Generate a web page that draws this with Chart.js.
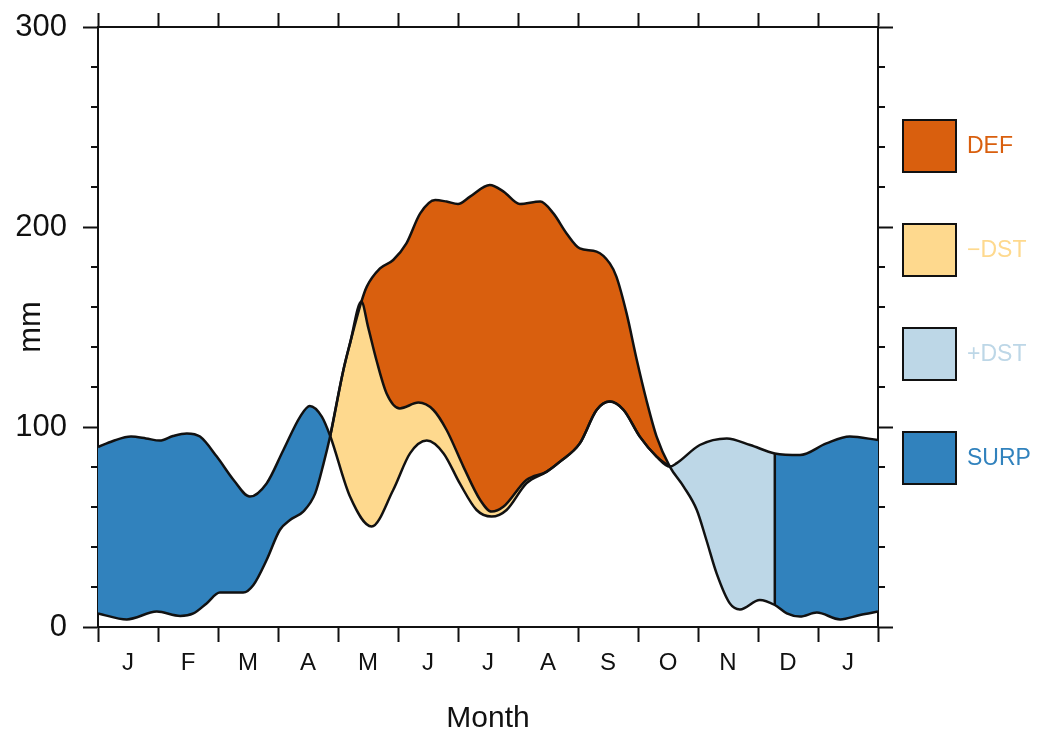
<!DOCTYPE html>
<html><head><meta charset="utf-8">
<script src="https://cdn.jsdelivr.net/npm/chart.js@4.4.1/dist/chart.umd.min.js"></script>
<style>html,body{margin:0;padding:0;background:#fff}#wrap{width:1037px;height:732px;position:relative}</style>
</head><body><div id="wrap"><canvas id="c"></canvas></div>
<script>
// ---- data ----
const monthLabels = ['J','F','M','A','M','J','J','A','S','O','N','D','J',''];
const monthTicks = [0,1,2,3,4,5,6,7,8,9,10,11,12,13];
const yMajorTicks = [0,100,200,300];
const yMinorTicks = [20,40,60,80,120,140,160,180,220,240,260,280];

// precipitation (mm) by month position
const precipMonth = [0,0.25,0.55,0.8,1.03,1.25,1.48,1.7,1.98,2.26,2.53,2.81,3.09,3.37,3.53,3.73,3.87,4.2,4.56,4.92,5.2,5.48,5.76,6.03,6.31,6.56,6.81,7.14,7.48,7.7,8.03,8.31,8.53,8.76,9.03,9.31,9.53,9.64,10.03,10.48,10.87,11.28,11.7,12.14,12.53,13];
const precipMm    = [90,93,95.2,94.3,93.2,95.5,96.8,95.2,85.2,73.5,65.2,71.8,88.5,105.2,110.5,105.2,95.5,65.2,50.2,68.5,86.8,93.2,86.8,71.8,58.5,55.2,58.5,71.8,77.7,82.7,91.8,108.5,112.7,108.5,95.2,85.2,80.2,81.8,91,94.3,91,86.8,86,91.8,95.2,93.5];

// potential evapotranspiration (mm)
const petMonth = [0,0.48,0.98,1.37,1.59,1.81,2.03,2.42,2.59,2.81,3.03,3.2,3.42,3.62,3.76,3.87,4.09,4.2,4.39,4.48,4.7,4.92,5.14,5.37,5.62,5.81,6.0,6.2,6.53,6.76,7.03,7.37,7.59,7.81,8.03,8.31,8.53,8.64,8.81,8.98,9.14,9.31,9.53,9.76,9.98,10.14,10.31,10.53,10.7,11.03,11.28,11.48,11.7,11.98,12.37,12.7,13];
const petMm    = [6.8,3.8,7.7,5.5,6.8,11.8,17.2,17.2,21,33.5,48.5,53.5,57.7,66.8,81.8,95.5,128.5,141.8,162.7,170.2,179.3,183.5,191.8,206.8,213.5,212.7,211.5,215.2,221,217.7,211.5,212.7,206.8,196.8,189.3,187.7,181.8,175.2,156.8,133.5,113.5,95.2,80.2,70.2,58.5,43.5,26.8,11.8,8.8,13.5,11,6.8,5.2,7.2,3.8,6,7.7];

// actual evapotranspiration where it departs from PET and P (mm)
const aetMonth = [4.39,4.5,4.64,4.81,5.03,5.34,5.59,5.81,6.09,6.37,6.56,6.76,7.14];
const aetMm    = [162.7,150.2,133.5,116.8,109.3,112.2,108.5,98.5,80.2,63.5,57.7,60.2,73.5];

// season boundaries (month position)
const drawdownStart = 3.87;   // P falls below PET
const aetJoinsPrecip = 7.3;   // AET meets P again
const rechargeStart = 9.53;   // P rises above PET
const rechargeEnd = 11.28;    // soil full again, surplus resumes

const legendLabels = ['DEF','\u2212DST','+DST','SURP'];
const legendColors = ['#d95f0e','#fed98e','#bdd7e7','#3182bd'];

// ---- derived series ----
const toPts = (xs, ys) => xs.map((x, i) => ({x: x, y: ys[i]}));
const P = toPts(precipMonth, precipMm);
const PET = toPts(petMonth, petMm);
const AET = [].concat(
  PET.filter(p => p.x >= drawdownStart && p.x < aetMonth[0]),
  toPts(aetMonth, aetMm),
  P.filter(p => p.x > aetJoinsPrecip && p.x <= rechargeStart)
);
const recharge = P.filter(p => p.x >= rechargeStart && p.x <= rechargeEnd);
const divider = [PET.find(p => p.x === rechargeEnd), P.find(p => p.x === rechargeEnd)].map(p => ({x: p.x, y: p.y}));

const FONT = '"Liberation Sans", Arial, sans-serif';
const INK = '#111';

const decor = {
  id: 'decor',
  afterDraw(chart) {
    const {ctx, chartArea: a} = chart;
    const y = chart.scales.y;
    ctx.save();
    ctx.strokeStyle = INK; ctx.lineWidth = 2;
    yMinorTicks.forEach(v => {
      const py = Math.round(y.getPixelForValue(v));
      ctx.beginPath();
      ctx.moveTo(a.left - 7, py); ctx.lineTo(a.left, py);
      ctx.moveTo(a.right, py); ctx.lineTo(a.right + 7, py);
      ctx.stroke();
    });
    legendLabels.forEach((t, i) => {
      const bx = a.right + 25, by = 120 + i * 104;
      ctx.fillStyle = legendColors[i];
      ctx.fillRect(bx, by, 53, 52);
      ctx.strokeStyle = INK; ctx.lineWidth = 2;
      ctx.strokeRect(bx, by, 53, 52);
      ctx.fillStyle = legendColors[i];
      ctx.font = '23px ' + FONT;
      ctx.textBaseline = 'middle'; ctx.textAlign = 'left';
      ctx.fillText(t, bx + 64, by + 27);
    });
    ctx.restore();
  }
};

const lineBase = {pointRadius: 0, pointHoverRadius: 0, cubicInterpolationMode: 'monotone', borderColor: INK, borderWidth: 2.5};
const noPad = s => { s.paddingTop = 0; s.paddingBottom = 0; s.paddingLeft = 0; s.paddingRight = 0; };

new Chart(document.getElementById('c'), {
  type: 'line',
  data: {
    datasets: [
      Object.assign({}, lineBase, {label: '+DST', data: recharge, borderWidth: 0, borderColor: 'rgba(0,0,0,0)', backgroundColor: legendColors[2], fill: 3}),
      Object.assign({}, lineBase, {label: 'AET', data: AET, fill: {target: 3, above: 'rgba(0,0,0,0)', below: legendColors[0]}}),
      Object.assign({}, lineBase, {label: 'P', data: P, fill: {target: 3, above: legendColors[3], below: legendColors[1]}}),
      Object.assign({}, lineBase, {label: 'PET', data: PET, fill: false}),
      Object.assign({}, lineBase, {label: 'edge', data: divider, fill: false, cubicInterpolationMode: 'default', tension: 0})
    ]
  },
  options: {
    responsive: true, maintainAspectRatio: false, animation: false,
    layout: {padding: {left: 0, top: 0, right: 144, bottom: 0}},
    plugins: {legend: {display: false}, tooltip: {enabled: false}, filler: {drawTime: 'beforeDatasetsDraw'}},
    scales: {
      x: {
        type: 'linear', position: 'bottom', min: 0, max: 13,
        afterBuildTicks: s => { s.ticks = monthTicks.map(v => ({value: v})); },
        afterFit: s => { s.height = 105; noPad(s); },
        ticks: {autoSkip: false, maxRotation: 0, labelOffset: 30, padding: 7, color: INK,
          font: {family: FONT, size: 24}, callback: (v, i) => monthLabels[i]},
        grid: {drawOnChartArea: false, tickLength: 15, tickColor: INK, tickWidth: 2},
        border: {color: INK, width: 2},
        title: {display: true, text: 'Month', color: INK, font: {family: FONT, size: 30, lineHeight: 0.9}, padding: {top: 0, bottom: 0}}
      },
      x2: {
        type: 'linear', position: 'top', min: 0, max: 13,
        afterBuildTicks: s => { s.ticks = monthTicks.map(v => ({value: v})); },
        afterFit: s => { s.height = 27; noPad(s); },
        ticks: {display: false},
        grid: {drawOnChartArea: false, tickLength: 14, tickColor: INK, tickWidth: 2},
        border: {color: INK, width: 2}
      },
      y: {
        type: 'linear', position: 'left', min: 0, max: 300,
        afterBuildTicks: s => { s.ticks = yMajorTicks.map(v => ({value: v})); },
        afterFit: s => { s.width = 98; noPad(s); },
        ticks: {padding: 16, color: INK, font: {family: FONT, size: 31}},
        grid: {drawOnChartArea: false, tickLength: 15, tickColor: INK, tickWidth: 2},
        border: {color: INK, width: 2},
        title: {display: true, text: 'mm', color: INK, font: {family: FONT, size: 31, lineHeight: 1}, padding: {top: 16, bottom: 0}}
      },
      y2: {
        type: 'linear', position: 'right', min: 0, max: 300,
        afterBuildTicks: s => { s.ticks = yMajorTicks.map(v => ({value: v})); },
        afterFit: s => { s.width = 15; noPad(s); },
        ticks: {display: false},
        grid: {drawOnChartArea: false, tickLength: 15, tickColor: INK, tickWidth: 2},
        border: {color: INK, width: 2}
      }
    }
  },
  plugins: [decor]
});
</script></body></html>
